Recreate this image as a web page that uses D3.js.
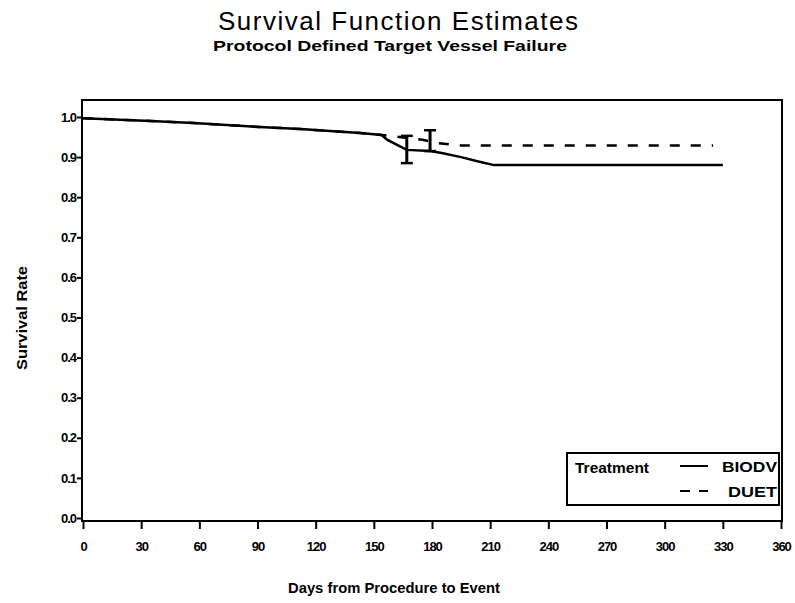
<!DOCTYPE html>
<html>
<head>
<meta charset="utf-8">
<script src="https://cdn.jsdelivr.net/npm/d3@7"></script>
<style>
  body { margin: 0; background: #fff; }
  text { font-family: "Liberation Sans", Arial, sans-serif; fill: #000; }
</style>
</head>
<body>
<div id="chart"></div>
<script>
// survival curves
var biodvDays = [0, 35, 57, 91, 112, 143, 154, 157, 167, 179, 185, 195, 205, 212, 330];
var biodvSurv = [0.997, 0.99, 0.985, 0.975, 0.97, 0.96, 0.955, 0.943, 0.918, 0.915, 0.91, 0.90, 0.888, 0.88, 0.88];

var duetDays = [0, 35, 57, 91, 112, 143, 154, 160, 175, 183, 195, 325];
var duetSurv = [0.997, 0.99, 0.985, 0.975, 0.97, 0.96, 0.955, 0.952, 0.943, 0.935, 0.929, 0.929];

// confidence bars
var errDays = [167, 179];
var errLow = [0.885, 0.915];
var errHigh = [0.953, 0.967];

var xTicks = [0, 30, 60, 90, 120, 150, 180, 210, 240, 270, 300, 330, 360];
var yTicks = [0, 0.1, 0.2, 0.3, 0.4, 0.5, 0.6, 0.7, 0.8, 0.9, 1.0];

var legendNames = ['BIODV', 'DUET'];

var width = 795,
    height = 603;

var plotLeft = 82, plotRight = 782, plotTop = 100, plotBottom = 521;

var svg = d3.select('#chart')
    .append('svg')
    .attr('width', width)
    .attr('height', height);

var x = d3.scaleLinear().domain([0, 360]).range([83, 781]);
var y = d3.scaleLinear().domain([0, 1]).range([518, 117]);

function boldText(sel, size, len) {
    sel.style('font-size', size + 'px')
        .style('font-weight', 'bold');
    if (len) sel.attr('textLength', len).attr('lengthAdjust', 'spacingAndGlyphs');
    return sel;
}

// titles
svg.append('text')
    .attr('x', 398)
    .attr('y', 30)
    .attr('text-anchor', 'middle')
    .style('font-size', '26px')
    .attr('textLength', 360)
    .attr('lengthAdjust', 'spacing')
    .text('Survival Function Estimates');

svg.append('text')
    .attr('x', 390)
    .attr('y', 51)
    .attr('text-anchor', 'middle')
    .call(boldText, 14, 354)
    .text('Protocol Defined Target Vessel Failure');

// frame
svg.append('rect')
    .attr('x', plotLeft)
    .attr('y', plotTop)
    .attr('width', plotRight - plotLeft)
    .attr('height', plotBottom - plotTop)
    .attr('fill', 'none')
    .attr('stroke', '#000')
    .attr('stroke-width', 2);

var xAxis = d3.axisBottom(x)
    .tickValues(xTicks)
    .tickSize(8)
    .tickSizeOuter(0)
    .tickFormat(d3.format('d'));

var gx = svg.append('g')
    .attr('transform', 'translate(0,' + plotBottom + ')')
    .call(xAxis);
gx.select('.domain').remove();
gx.selectAll('line').attr('stroke-width', 2);
gx.selectAll('text')
    .attr('y', 21)
    .style('font-size', '13px')
    .style('font-weight', 'bold')
    .style('letter-spacing', '-1px');

var yAxis = d3.axisLeft(y)
    .tickValues(yTicks)
    .tickSize(5)
    .tickSizeOuter(0)
    .tickFormat(d3.format('.1f'));

var gy = svg.append('g')
    .attr('transform', 'translate(' + plotLeft + ',0)')
    .call(yAxis);
gy.select('.domain').remove();
gy.selectAll('line').attr('stroke-width', 2);
gy.selectAll('text')
    .attr('x', -6)
    .style('font-size', '13px')
    .style('font-weight', 'bold')
    .style('letter-spacing', '-1px');

// axis labels
svg.append('text')
    .attr('x', 394)
    .attr('y', 593)
    .attr('text-anchor', 'middle')
    .call(boldText, 14, 212)
    .text('Days from Procedure to Event');

svg.append('text')
    .attr('transform', 'translate(27,318) rotate(-90)')
    .attr('text-anchor', 'middle')
    .call(boldText, 14, 104)
    .text('Survival Rate');

var line = d3.line()
    .x(function (d) { return x(d[0]); })
    .y(function (d) { return y(d[1]); });

var duet = duetDays.map(function (d, i) { return [d, duetSurv[i]]; });
var biodv = biodvDays.map(function (d, i) { return [d, biodvSurv[i]]; });

svg.append('path')
    .attr('d', line(duet))
    .attr('fill', 'none')
    .attr('stroke', '#000')
    .attr('stroke-width', 2.5)
    .attr('stroke-dasharray', '10,11');

svg.append('path')
    .attr('d', line(biodv))
    .attr('fill', 'none')
    .attr('stroke', '#000')
    .attr('stroke-width', 2.5);

// error bars
var eb = svg.selectAll('.err')
    .data(errDays)
    .enter()
    .append('g')
    .attr('class', 'err');

eb.append('line')
    .attr('x1', function (d) { return x(d); })
    .attr('x2', function (d) { return x(d); })
    .attr('y1', function (d, i) { return y(errLow[i]); })
    .attr('y2', function (d, i) { return y(errHigh[i]); })
    .attr('stroke', '#000')
    .attr('stroke-width', 3);

[errLow, errHigh].forEach(function (arr) {
    eb.append('line')
        .attr('x1', function (d) { return x(d) - 6; })
        .attr('x2', function (d) { return x(d) + 6; })
        .attr('y1', function (d, i) { return y(arr[i]); })
        .attr('y2', function (d, i) { return y(arr[i]); })
        .attr('stroke', '#000')
        .attr('stroke-width', 2.5);
});

// legend
var legend = svg.append('g');

legend.append('rect')
    .attr('x', 567)
    .attr('y', 453)
    .attr('width', 212)
    .attr('height', 52)
    .attr('fill', '#fff')
    .attr('stroke', '#000')
    .attr('stroke-width', 2);

legend.append('text')
    .attr('x', 575)
    .attr('y', 473)
    .call(boldText, 14, 74)
    .text('Treatment');

var legendLen = [55, 49];

legendNames.forEach(function (name, i) {
    var ly = 466 + i * 25;
    legend.append('line')
        .attr('x1', 680)
        .attr('x2', 708)
        .attr('y1', ly)
        .attr('y2', ly)
        .attr('stroke', '#000')
        .attr('stroke-width', 2)
        .attr('stroke-dasharray', i === 1 ? '10,9' : null);
    legend.append('text')
        .attr('x', 777 - legendLen[i])
        .attr('y', ly + 6)
        .call(boldText, 14, legendLen[i])
        .text(name);
});
</script>
</body>
</html>
